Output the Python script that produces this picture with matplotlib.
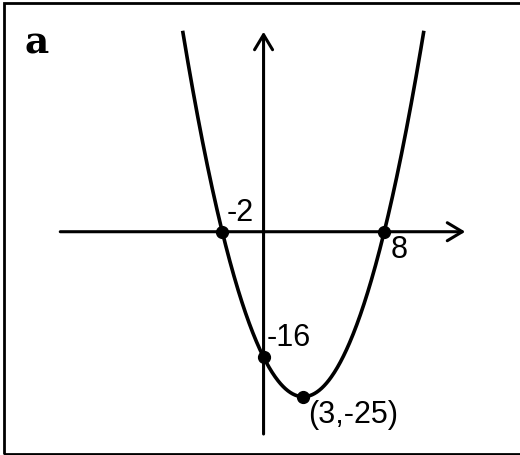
import numpy as np
import matplotlib
matplotlib.use('Agg')
import matplotlib.pyplot as plt
from matplotlib.patches import Rectangle

# parabola y = x^2 - 6x - 16
coeffs = [1, -6, -16]
roots = [-2, 8]
root_labels = ['-2', '8']
vertex = (3, -25)
vertex_label = '(3,-25)'
intercept_label = '-16'
panel_label = 'a'

# the drawn y axis sits a little right of x=0 in the original sketch
yaxis_x = 0.55

plt.rcParams['font.family'] = ['Liberation Sans', 'DejaVu Sans']

fig = plt.figure(figsize=(5.2, 4.55), dpi=100)
ax = fig.add_axes([0, 0, 1, 1])
ax.set_xlim(-15.72, 16.38)
ax.set_ylim(-33.83, 35.11)
ax.axis('off')

# axes with open arrow heads
arrow = dict(arrowstyle='->,head_length=0.4,head_width=0.24', lw=2.2, color='k',
             mutation_scale=27, shrinkA=0, shrinkB=0)
ax.annotate('', xy=(13.0, 0), xytext=(-12.0, 0), arrowprops=arrow)
ax.annotate('', xy=(yaxis_x, 30.3), xytext=(yaxis_x, -30.65), arrowprops=arrow)

# curve
top = 30.45
half = np.sqrt(top - vertex[1])
xs = np.linspace(vertex[0] - half, vertex[0] + half, 400)
ax.plot(xs, np.polyval(coeffs, xs), color='k', lw=2.6, solid_capstyle='butt')

# marked points
yi = np.polyval(coeffs, yaxis_x)
px = roots + [yaxis_x, vertex[0]]
py = [0, 0, yi, vertex[1]]
ax.plot(px, py, 'o', color='k', ms=8.5, zorder=5)

fs = 22
ax.text(-1.71, 1.55, root_labels[0], fontsize=fs, ha='left', va='baseline')
ax.text(8.38, -4.03, root_labels[1], fontsize=fs, ha='left', va='baseline')
ax.text(0.76, -17.32, intercept_label, fontsize=fs, ha='left', va='baseline')
ax.text(3.29, -29.03, vertex_label, fontsize=fs, ha='left', va='baseline')

fig.text(25 / 520, 1 - 53 / 455, panel_label, fontsize=27, fontweight='bold',
         family='DejaVu Serif', ha='left', va='baseline')

# frame (cropped on the right)
fig.add_artist(Rectangle((3.5 / 520, 1 / 455), 1.2, (452.5 - 1) / 455,
                         transform=fig.transFigure, fill=False, lw=2.0,
                         edgecolor='k'))

fig.savefig('out.png', dpi=100)
